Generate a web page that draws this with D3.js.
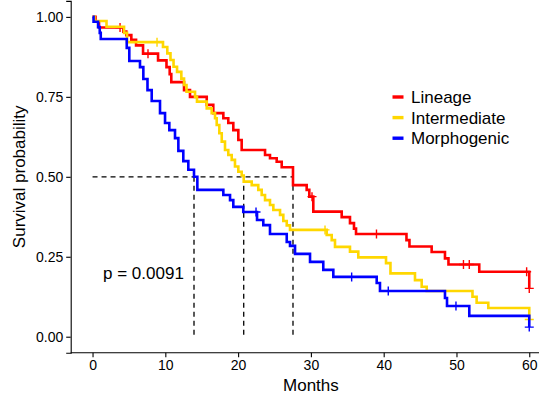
<!DOCTYPE html>
<html>
<head>
<meta charset="utf-8">
<script src="https://cdn.jsdelivr.net/npm/d3@7"></script>
<style>
  body { margin: 0; background: #fff; }
  svg { display: block; font-family: "Liberation Sans", Arial, sans-serif; }
</style>
</head>
<body>
<svg id="svg" width="539" height="398"></svg>
<script>
const groups = ["Lineage", "Intermediate", "Morphogenic"];
const groupColors = ["#FF0000", "#FFD700", "#0000FF"];

// step times (months) and survival after each step
const lineageTimes = [0.41, 0.89, 4.23, 4.64, 5.33, 5.98, 6.94, 9.0, 10.16, 10.6, 10.82, 12.57, 13.39, 15.69, 16.59, 17.97, 18.65, 19.34, 20.03, 20.49, 23.7, 24.38, 25.3, 25.99, 27.54, 29.42, 29.78, 30.33, 34.23, 35.37, 35.92, 36.2, 43.13, 43.54, 46.59, 48.42, 48.9, 53.13, 60];
const lineageSurv = [0.986, 0.967, 0.954, 0.943, 0.928, 0.911, 0.885, 0.864, 0.843, 0.821, 0.796, 0.771, 0.75, 0.725, 0.699, 0.683, 0.668, 0.646, 0.615, 0.584, 0.568, 0.558, 0.547, 0.53, 0.474, 0.459, 0.438, 0.391, 0.374, 0.355, 0.338, 0.321, 0.302, 0.282, 0.265, 0.245, 0.226, 0.203, 0.151];
const lineageCensor = [3.78, 7.62, 30.15, 39.01, 50.96, 51.76, 59.64, 60];

const intermediateTimes = [0.27, 1.92, 4.33, 4.74, 9.68, 10.27, 10.71, 11.13, 11.61, 12.2, 12.57, 12.91, 14.08, 14.35, 15.69, 16.37, 16.83, 17.06, 17.42, 17.75, 18.2, 18.65, 19.12, 19.57, 20.03, 20.49, 20.77, 21.87, 22.77, 23.24, 23.7, 24.38, 24.84, 25.76, 26.21, 26.68, 27.13, 32.17, 32.86, 33.31, 35.37, 36.51, 40.32, 40.93, 44.3, 45.22, 45.91, 52.2, 52.77, 54.37, 60];
const intermediateSurv = [0.987, 0.969, 0.95, 0.921, 0.906, 0.886, 0.865, 0.844, 0.828, 0.807, 0.787, 0.766, 0.75, 0.735, 0.714, 0.699, 0.683, 0.662, 0.636, 0.61, 0.584, 0.568, 0.553, 0.532, 0.516, 0.504, 0.485, 0.474, 0.459, 0.443, 0.427, 0.412, 0.396, 0.381, 0.362, 0.348, 0.334, 0.318, 0.302, 0.281, 0.266, 0.248, 0.23, 0.198, 0.177, 0.156, 0.143, 0.125, 0.106, 0.09, 0.054];
const intermediateCensor = [8.86, 31.94, 60];

const morphogenicTimes = [0.14, 0.76, 0.99, 1.13, 4.7, 5.05, 6.52, 6.98, 7.55, 8.13, 9.27, 9.96, 10.55, 11.33, 11.79, 12.47, 13.16, 13.94, 14.4, 17.97, 18.89, 19.34, 20.71, 22.6, 23.46, 24.38, 26.68, 27.13, 27.82, 29.88, 31.7, 33.08, 39.04, 39.49, 48.42, 48.7, 51.76, 60];
const morphogenicSurv = [0.985, 0.968, 0.95, 0.931, 0.903, 0.862, 0.843, 0.806, 0.771, 0.737, 0.699, 0.668, 0.646, 0.621, 0.581, 0.549, 0.522, 0.5, 0.459, 0.443, 0.427, 0.406, 0.39, 0.365, 0.349, 0.321, 0.296, 0.284, 0.259, 0.234, 0.209, 0.187, 0.168, 0.143, 0.121, 0.096, 0.065, 0.03];
const morphogenicCensor = [22.46, 35.6, 40.63, 49.93, 60];

const medianTimes = [13.94, 20.77, 27.54];
const xTicks = [0, 10, 20, 30, 40, 50, 60];
const yTicks = [0, 0.25, 0.5, 0.75, 1];
const pValueLabel = "p = 0.0091";

const series = [
  { times: lineageTimes, surv: lineageSurv, censor: lineageCensor },
  { times: intermediateTimes, surv: intermediateSurv, censor: intermediateCensor },
  { times: morphogenicTimes, surv: morphogenicSurv, censor: morphogenicCensor },
];

const svg = d3.select("#svg");

const x = d3.scaleLinear().domain([-3, 63]).range([70.7, 551.1]);
const y = d3.scaleLinear().domain([-0.05, 1.05]).range([352.7, 0.9]);

// axes
const xAxis = svg.append("g")
  .attr("transform", `translate(0,${y(-0.05)})`)
  .call(d3.axisBottom(x).tickValues(xTicks).tickSize(4.5).tickPadding(3).tickFormat(d3.format("d")));
const yAxis = svg.append("g")
  .attr("transform", `translate(${x(-3)},0)`)
  .call(d3.axisLeft(y).tickValues(yTicks).tickSize(4.5).tickPadding(3).tickFormat(d3.format(".2f")));

[xAxis, yAxis].forEach(a => {
  a.select(".domain").attr("stroke", "#000").attr("stroke-width", 1.1);
  a.selectAll(".tick line").attr("stroke", "#000").attr("stroke-width", 1.1);
  a.selectAll(".tick text")
    .attr("fill", "#000")
    .style("font-size", "14px")
    .style("font-family", "Liberation Sans, Arial, sans-serif");
});
xAxis.select(".domain").attr("d", `M${x(-3)},0H${x(63)}`);

svg.append("text")
  .attr("x", x(30))
  .attr("y", 390.5)
  .attr("text-anchor", "middle")
  .style("font-size", "17px")
  .text("Months");

svg.append("text")
  .attr("transform", `translate(25,${y(0.5)}) rotate(-90)`)
  .attr("text-anchor", "middle")
  .style("font-size", "17px")
  .text("Survival probability");

// median lines
const maxMedian = d3.max(medianTimes);
svg.append("path")
  .attr("d", `M${x(0)},${y(0.5)}H${x(maxMedian)}`)
  .attr("stroke", "#000")
  .attr("stroke-width", 1.3)
  .attr("stroke-dasharray", "5,4")
  .attr("fill", "none");
svg.selectAll(".median")
  .data(medianTimes)
  .enter()
  .append("path")
  .attr("class", "median")
  .attr("d", d => `M${x(d)},${y(0.5)}V${y(0)}`)
  .attr("stroke", "#000")
  .attr("stroke-width", 1.3)
  .attr("stroke-dasharray", "5,4")
  .attr("fill", "none");

// survival curves
const line = d3.line()
  .x(d => x(d[0]))
  .y(d => y(d[1]))
  .curve(d3.curveStepAfter);

function survAt(s, t) {
  let v = 1;
  s.times.forEach((tt, i) => { if (tt <= t) v = s.surv[i]; });
  return v;
}

series.forEach((s, i) => {
  const pts = [[0, 1]].concat(s.times.map((t, j) => [t, s.surv[j]]));
  svg.append("path")
    .datum(pts)
    .attr("d", line)
    .attr("fill", "none")
    .attr("stroke", groupColors[i])
    .attr("stroke-width", 2.6);

  svg.selectAll(".censor" + i)
    .data(s.censor)
    .enter()
    .append("path")
    .attr("class", "censor" + i)
    .attr("d", t => {
      const cx = x(t), cy = y(survAt(s, t));
      return `M${cx - 4.5},${cy}H${cx + 4.5}M${cx},${cy - 4.5}V${cy + 4.5}`;
    })
    .attr("stroke", groupColors[i])
    .attr("stroke-width", 1.4);
});

svg.append("text")
  .attr("x", x(1.44))
  .attr("y", y(0.2))
  .attr("dy", "0.35em")
  .style("font-size", "17px")
  .text(pValueLabel);

// legend
const legend = svg.append("g").attr("transform", "translate(392,97)");
groups.forEach((g, i) => {
  const row = legend.append("g").attr("transform", `translate(0,${i * 20.6})`);
  row.append("rect")
    .attr("x", 0.5).attr("y", -1.7)
    .attr("width", 11).attr("height", 3.4)
    .attr("fill", groupColors[i]);
  row.append("text")
    .attr("x", 19)
    .attr("dy", "0.36em")
    .style("font-size", "17px")
    .text(g);
});
</script>
</body>
</html>
